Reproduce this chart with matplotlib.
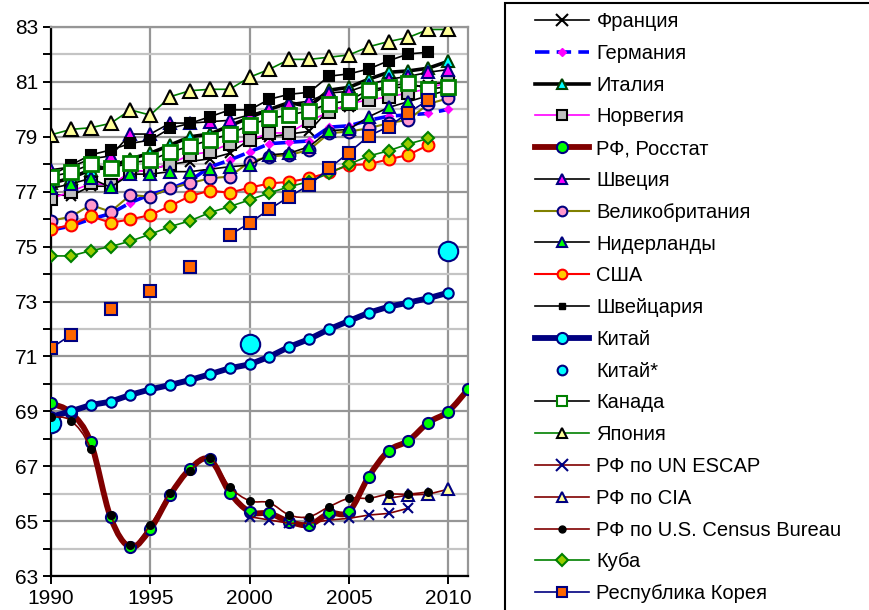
import numpy as np
import matplotlib
matplotlib.use("Agg")
import matplotlib.pyplot as plt
from matplotlib.lines import Line2D
from matplotlib.path import Path
from matplotlib.patches import PathPatch, Rectangle

nan = np.nan
years = list(range(1990, 2012))

france = [76.9, 76.85, 77.2, 77.2, 77.7, 77.8, 78.0, 78.1, 78.2, 78.4, 78.9, 79.0, 79.1, 79.2, 80.0, 80.1, 80.6, 80.8, 80.8, 80.9, 81.0, nan]
germany = [75.6, 75.75, 76.0, 76.2, 76.6, 76.9, 77.1, 77.4, 77.9, 78.15, 78.45, 78.75, 78.8, 78.85, 79.35, 79.4, 79.6, 79.75, 79.8, 79.85, 80.0, nan]
italy = [77.3, 77.5, 77.8, 77.9, 78.2, 78.4, 78.7, 79.0, 79.1, 79.4, 79.7, 80.0, 80.25, 80.1, 80.7, 80.8, 81.1, 81.35, 81.4, 81.5, 81.75, nan]
norway = [76.75, 77.0, 77.3, 77.25, 77.7, 77.8, 78.0, 78.35, 78.45, 78.75, 78.88, 79.14, 79.14, 79.57, 79.9, 80.2, 80.35, 80.45, 80.6, 80.75, 81.0, nan]
rosstat = [69.29, 68.95, 67.87, 65.14, 64.05, 64.7, 65.95, 66.9, 67.25, 66.04, 65.34, 65.28, 64.98, 64.86, 65.28, 65.34, 66.62, 67.56, 67.93, 68.59, 68.99, 69.8]
sweden = [77.8, 77.9, 78.2, 78.3, 79.1, 79.1, 79.5, 79.5, 79.55, 79.6, 79.8, 80.0, 80.2, 80.3, 80.6, 80.65, 80.9, 81.1, 81.2, 81.35, 81.45, nan]
uk = [75.94, 76.09, 76.52, 76.27, 76.88, 76.82, 77.12, 77.31, 77.49, 77.55, 78.09, 78.28, 78.34, 78.52, 79.13, 79.19, 79.31, 79.5, 79.62, 80.2, 80.4, nan]
netherlands = [77.12, 77.28, 77.49, 77.16, 77.64, 77.64, 77.73, 77.73, 77.82, 77.91, 77.97, 78.34, 78.4, 78.64, 79.22, 79.27, 79.73, 80.07, 80.28, 80.5, 80.7, nan]
usa = [75.63, 75.79, 76.11, 75.87, 75.99, 76.15, 76.48, 76.84, 77.04, 76.96, 77.15, 77.3, 77.36, 77.49, 77.7, 77.97, 78.0, 78.18, 78.34, 78.7, nan, nan]
switzerland = [77.6, 77.97, 78.34, 78.52, 78.76, 78.88, 79.31, 79.49, 79.73, 79.98, 79.98, 80.37, 80.55, 80.62, 81.21, 81.29, 81.47, 81.77, 82.02, 82.08, nan, nan]
china = [68.8, 69.0, 69.23, 69.35, 69.6, 69.8, 69.96, 70.14, 70.35, 70.57, 70.71, 70.99, 71.35, 71.63, 71.99, 72.29, 72.59, 72.81, 72.96, 73.12, 73.32, nan]
china_star_years = [1990, 2000, 2010]
china_star = [68.59, 71.44, 74.85]
canada = [77.55, 77.71, 78.0, 77.85, 78.06, 78.14, 78.44, 78.66, 78.88, 79.1, 79.43, 79.67, 79.79, 79.95, 80.2, 80.32, 80.7, 80.83, 80.97, 80.73, 80.83, nan]
japan = [79.07, 79.27, 79.33, 79.49, 79.98, 79.79, 80.46, 80.68, 80.73, 80.73, 81.17, 81.46, 81.82, 81.82, 81.9, 81.98, 82.28, 82.47, 82.62, 82.91, 82.91, nan]
escap_years = list(range(2000, 2009))
escap = [65.16, 65.04, 64.92, 64.92, 65.04, 65.1, 65.22, 65.28, 65.47]
cia_years = [2007, 2008, 2009, 2010]
cia = [65.83, 65.95, 65.98, 66.16]
census_years = list(range(1990, 2010))
census = [68.8, 68.66, 67.63, 65.22, 64.13, 64.86, 66.04, 66.84, 67.29, 66.25, 65.74, 65.67, 65.22, 65.16, 65.52, 65.83, 65.83, 65.98, 65.98, 66.07]
cuba_years = list(range(1990, 2010))
cuba = [74.66, 74.66, 74.85, 75.0, 75.2, 75.45, 75.73, 75.94, 76.24, 76.46, 76.7, 76.96, 77.18, 77.37, 77.67, 78.0, 78.3, 78.49, 78.74, 78.94]
korea = [71.3, 71.78, nan, 72.73, nan, 73.39, nan, 74.25, nan, 75.42, 75.86, 76.36, 76.82, 77.24, 77.85, 78.42, 79.03, 79.37, 79.88, 80.34, nan, nan]

labels = ["Франция", "Германия", "Италия", "Норвегия", "РФ, Росстат", "Швеция",
          "Великобритания", "Нидерланды", "США", "Швейцария", "Китай", "Китай*",
          "Канада", "Япония", "РФ по UN ESCAP", "РФ по CIA", "РФ по U.S. Census Bureau",
          "Куба", "Республика Корея"]

plt.rcParams['font.family'] = ['Liberation Sans', 'DejaVu Sans']

W, H = 869, 610
fig = plt.figure(figsize=(W / 100, H / 100), dpi=100)
L, R, T, B = 51, 468, 27, 576
ax = fig.add_axes([L / W, 1 - B / H, (R - L) / W, (B - T) / H])

ax.set_xlim(1990, 2011)
ax.set_ylim(63, 83)
ax.set_yticks(range(63, 84, 2))
ax.set_yticks(range(64, 83, 2), minor=True)
ax.set_xticks([1990, 1995, 2000, 2005, 2010])
ax.grid(True, which='major', axis='y', color='#969696', lw=1.6, zorder=0)
ax.grid(True, which='minor', axis='y', color='#c4c4c4', lw=1.6, zorder=0)
ax.grid(True, which='major', axis='x', color='#969696', lw=1.6, zorder=0)
ax.set_axisbelow(True)
for s in ['top', 'right']:
    ax.spines[s].set_color('#969696')
    ax.spines[s].set_linewidth(1.6)
for s in ['left', 'bottom']:
    ax.spines[s].set_color('black')
    ax.spines[s].set_linewidth(1.6)
ax.tick_params(axis='both', which='both', direction='out', color='black', width=1.4, labelsize=15)
ax.tick_params(axis='both', which='major', length=6, pad=3)
ax.tick_params(axis='y', which='minor', length=6)

yr = np.array(years, dtype=float)


def smooth_path(xs, ys):
    xs = np.asarray(xs, float)
    ys = np.asarray(ys, float)
    n = len(xs)
    verts = [(xs[0], ys[0])]
    codes = [Path.MOVETO]
    for i in range(n - 1):
        p0 = np.array([xs[max(i - 1, 0)], ys[max(i - 1, 0)]])
        p1 = np.array([xs[i], ys[i]])
        p2 = np.array([xs[i + 1], ys[i + 1]])
        p3 = np.array([xs[min(i + 2, n - 1)], ys[min(i + 2, n - 1)]])
        c1 = p1 + (p2 - p0) / 6.0
        c2 = p2 - (p3 - p1) / 6.0
        verts += [tuple(c1), tuple(c2), tuple(p2)]
        codes += [Path.CURVE4] * 3
    return Path(verts, codes)


def series(x, y, color, lw, marker, ms, mfc, mec, ls='-', mew=1.5, smooth=False, z=3):
    x = np.asarray(x, float)
    y = np.asarray(y, float)
    if smooth:
        ax.add_patch(PathPatch(smooth_path(x, y), facecolor='none', edgecolor=color, lw=lw, zorder=z))
        ax.plot(x, y, ls='none', marker=marker, ms=ms, mfc=mfc, mec=mec, mew=mew, zorder=z)
    else:
        ax.plot(x, y, color=color, lw=lw, ls=ls, marker=marker, ms=ms, mfc=mfc, mec=mec, mew=mew, zorder=z)


NAVY = '#000080'
DRED = '#800000'
series(yr, france, 'black', 1.2, 'x', 7, 'black', 'black', mew=1.5)
series(yr, germany, '#0000ff', 2.6, 'D', 3.5, '#ff00ff', '#ff00ff', ls=(0, (4, 2)))
series(yr, italy, 'black', 2.6, '^', 8, '#00ffff', '#004000')
series(yr, norway, '#ff00ff', 1.2, 's', 9, '#c0c0c0', 'black')
series(yr, rosstat, DRED, 4.2, 'o', 8, '#00ff00', NAVY, smooth=True)
series(yr, sweden, 'black', 1.2, '^', 8, '#ff00ff', NAVY)
series(yr, uk, '#808000', 1.5, 'o', 8.5, '#ff99cc', NAVY)
series(yr, netherlands, 'black', 1.2, '^', 8, '#00ff00', NAVY)
series(yr, usa, '#ff0000', 1.5, 'o', 8.5, '#ffcc00', '#ff0000')
series(yr, switzerland, 'black', 1.2, 's', 6.5, 'black', 'black')
series(yr, china, NAVY, 4.2, 'o', 7.5, '#00ffff', NAVY)
series(china_star_years, china_star, 'none', 0, 'o', 14, '#00ffff', NAVY, ls='none')
series(yr, canada, 'black', 1.2, 's', 10, 'white', '#008000', mew=2)
series(yr, japan, '#008000', 1.2, '^', 10, '#ffff99', 'black')
series(escap_years, escap, DRED, 1.2, 'x', 7, NAVY, NAVY)
series(cia_years, cia, DRED, 1.2, '^', 9, '#ffff99', NAVY)
series(census_years, census, DRED, 1.2, 'o', 5, 'black', 'black', smooth=True)
series(cuba_years, cuba, '#008000', 1.2, 'D', 6.5, '#99cc00', '#008000')
series(yr, korea, NAVY, 1.2, 's', 8.5, '#ff6600', NAVY)

# legend proxies
handles = [
    Line2D([], [], color='black', lw=1.2, marker='x', ms=8, mec='black', mew=1.5),
    Line2D([], [], color='#0000ff', lw=2.6, ls=(0, (4, 2)), marker='D', ms=4, mfc='#ff00ff', mec='#ff00ff'),
    Line2D([], [], color='black', lw=2.6, marker='^', ms=7, mfc='#00ffff', mec='#004000', mew=1.5),
    Line2D([], [], color='#ff00ff', lw=1.2, marker='s', ms=7, mfc='#c0c0c0', mec='black', mew=1.5),
    Line2D([], [], color=DRED, lw=4.2, marker='o', ms=8, mfc='#00ff00', mec=NAVY, mew=1.5),
    Line2D([], [], color='black', lw=1.2, marker='^', ms=7, mfc='#ff00ff', mec=NAVY, mew=1.5),
    Line2D([], [], color='#808000', lw=1.5, marker='o', ms=7, mfc='#ff99cc', mec=NAVY, mew=1.5),
    Line2D([], [], color='black', lw=1.2, marker='^', ms=7, mfc='#00ff00', mec=NAVY, mew=1.5),
    Line2D([], [], color='#ff0000', lw=1.5, marker='o', ms=7, mfc='#ffcc00', mec='#ff0000', mew=1.5),
    Line2D([], [], color='black', lw=1.2, marker='s', ms=5, mfc='black', mec='black'),
    Line2D([], [], color=NAVY, lw=4.2, marker='o', ms=8, mfc='#00ffff', mec=NAVY, mew=1.5),
    Line2D([], [], color='none', lw=0, marker='o', ms=7, mfc='#00ffff', mec=NAVY, mew=1.5),
    Line2D([], [], color='black', lw=1.2, marker='s', ms=7, mfc='white', mec='#008000', mew=1.5),
    Line2D([], [], color='#008000', lw=1.2, marker='^', ms=7, mfc='#ffff99', mec='black', mew=1.5),
    Line2D([], [], color=DRED, lw=1.2, marker='x', ms=8, mec=NAVY, mew=1.5),
    Line2D([], [], color=DRED, lw=1.2, marker='^', ms=7, mfc='#ffff99', mec=NAVY, mew=1.5),
    Line2D([], [], color=DRED, lw=1.2, marker='o', ms=5, mfc='black', mec='black'),
    Line2D([], [], color='#008000', lw=1.2, marker='D', ms=6, mfc='#99cc00', mec='#008000', mew=1.5),
    Line2D([], [], color=NAVY, lw=1.2, marker='s', ms=7, mfc='#ff6600', mec=NAVY, mew=1.5),
]

fig.add_artist(Rectangle((505 / W, -0.05), 0.5, 1 - 3 / H + 0.05, transform=fig.transFigure,
                         facecolor='white', edgecolor='black', lw=1.5, zorder=0))
fs = 14.5
leg = fig.legend(handles, labels, loc='upper left', bbox_to_anchor=(535 / W, 1 - 12 / H),
                 frameon=False, fontsize=fs, handlelength=2.7, handletextpad=0.35,
                 labelspacing=0.635, borderpad=0, borderaxespad=0)

fig.savefig('out.png', dpi=100)
